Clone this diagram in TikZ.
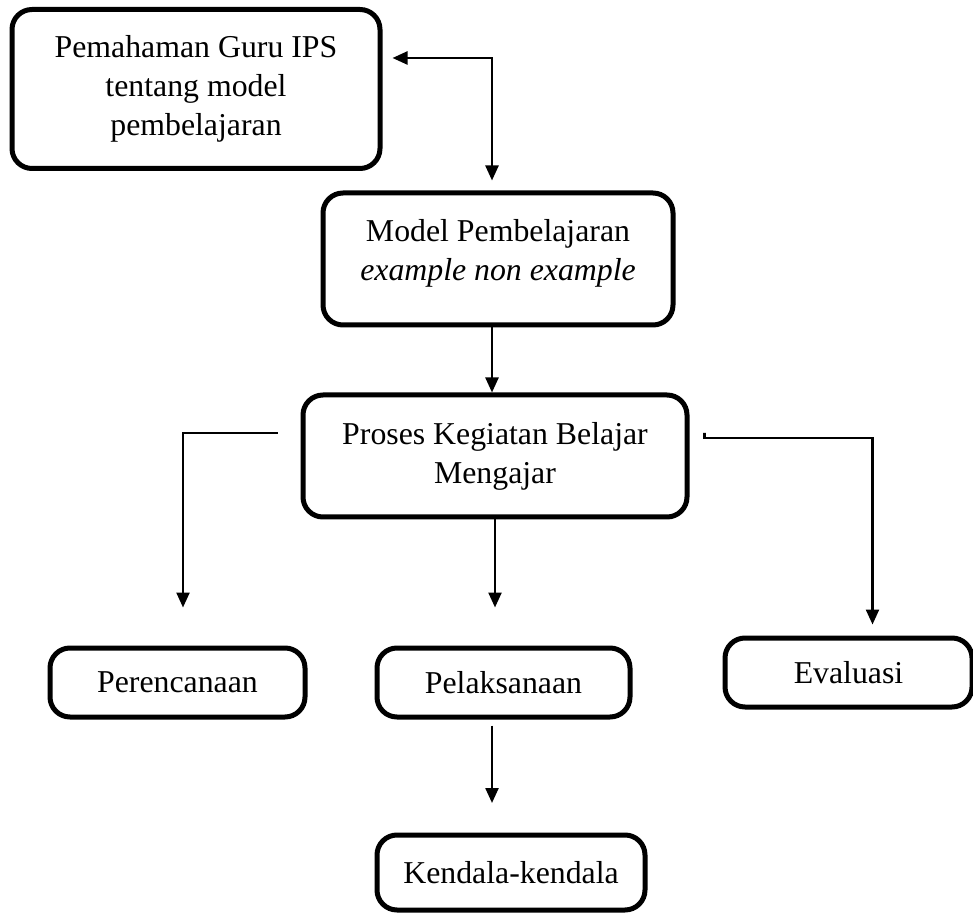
\documentclass[tikz,border=0pt]{standalone}
\usepackage{fontspec}
\setmainfont{Liberation Serif}
\usetikzlibrary{positioning,arrows.meta,calc}

\begin{document}
\begin{tikzpicture}[
  x=0.5pt, y=-0.5pt,
  font=\fontsize{15.9}{19.5}\selectfont,
  kotak/.style={draw, line width=2.5pt, rounded corners=10pt, align=center,
    inner sep=2pt},
  kecil/.style={kotak, minimum height=34.5pt},
  alur/.style={line width=1.2pt, -{Triangle[length=7.5pt, width=6.5pt]}},
  >={Triangle[length=7.5pt, width=6.5pt]}]
\useasboundingbox (0,0) rectangle (973,913);
% Kotak utama, vertikal
\node[kotak, minimum width=184pt, minimum height=79.5pt] (guru) at (196,89)
  {Pemahaman Guru IPS\\tentang model\\pembelajaran};
\node[kotak, minimum width=175pt, minimum height=66pt] (model) at (498,259)
  {Model Pembelajaran\\\textit{example non example}\\[-10pt]\mbox{}};
\node[kotak, minimum width=192pt, minimum height=61pt] (proses) at (495,456)
  {Proses Kegiatan Belajar\\Mengajar};
% Tiga tahap
\node[kecil, minimum width=127.5pt] (rencana) at (177.5,682.5) {Perencanaan};
\node[kecil, minimum width=126.5pt] (laksana) at (503.5,682.5) {Pelaksanaan};
\node[kecil, minimum width=123.5pt] (evaluasi) at (848.5,672.5) {Evaluasi};
\node[kotak, minimum width=134pt, minimum height=37.5pt] (kendala) at (511,872.5)
  {Kendala-kendala};
% Panah dua arah antara pemahaman dan model
\draw[line width=1.2pt, <->] ([shift={(5pt,15.5pt)}]guru.east)
  -| ([shift={(-3pt,5pt)}]model.north);
\draw[alur] ([xshift=-3pt]model.south) -- ([xshift=-3pt]model.south |- proses.north);
% Cabang dari proses
\coordinate (kiri) at ($(proses.west)+(-11.5pt,11.5pt)$);
\coordinate (kanan) at ($(proses.east)+(7.5pt,9pt)$);
\draw[alur] (kiri) -| ([shift={(2.75pt,19pt)}]rencana.north);
\draw[alur] (proses.south) -- ([yshift=19pt]proses.south |- laksana.north);
\draw[alur] (kanan) -- ++(0,2.5pt) -- ++(0,-2.5pt)
  -| ([shift={(12pt,5.5pt)}]evaluasi.north);
\draw[alur] ([shift={(-5.75pt,-3pt)}]laksana.south)
  -- ([shift={(-5.75pt,-3pt)}]laksana.south |- 0,797);
\end{tikzpicture}
\end{document}
